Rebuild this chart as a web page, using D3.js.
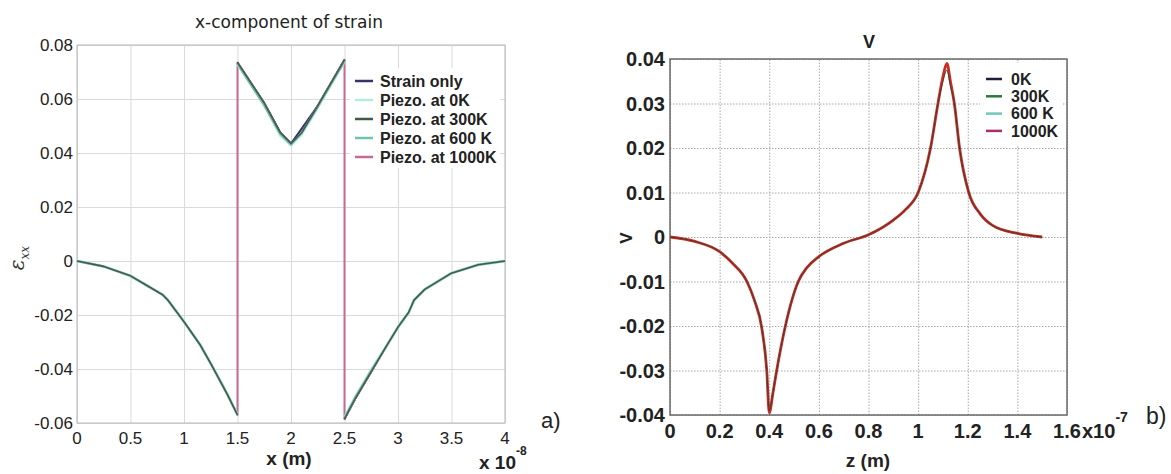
<!DOCTYPE html>
<html>
<head>
<meta charset="utf-8">
<script src="https://cdn.jsdelivr.net/npm/d3@7"></script>
<style>
  body { margin: 0; background: #fff; }
  svg { display: block; }
</style>
</head>
<body>
<div id="chart"></div>
<script>
// ---- panel a) x-component of strain (x in units of 1e-8 m) ----
const strainX = [0, 0.25, 0.5, 0.65, 0.8, 0.85, 1.0, 1.15, 1.25, 1.4, 1.5, 1.5, 1.5, 1.75, 1.9, 2.0, 2.1, 2.25, 2.5, 2.5, 2.5, 2.6, 2.75, 2.9, 3.0, 3.1, 3.15, 3.25, 3.5, 3.75, 4.0];
const strainOnly = [0, -0.002, -0.0055, -0.009, -0.0125, -0.0145, -0.0225, -0.031, -0.038, -0.049, -0.057, null, 0.0735, 0.0585, 0.0475, 0.0435, 0.049, 0.0575, 0.0745, null, -0.0585, -0.051, -0.041, -0.031, -0.0245, -0.019, -0.0145, -0.0105, -0.0045, -0.0014, 0];
const piezo0K = [0, -0.002, -0.0055, -0.009, -0.0125, -0.0145, -0.0225, -0.031, -0.038, -0.049, -0.057, null, 0.073, 0.058, 0.0465, 0.043, 0.047, 0.057, 0.074, null, -0.058, -0.0505, -0.0405, -0.031, -0.0245, -0.019, -0.0145, -0.0105, -0.0045, -0.0014, 0];
const piezo300K = [0, -0.002, -0.0055, -0.009, -0.0125, -0.0145, -0.0225, -0.031, -0.038, -0.049, -0.057, null, 0.0735, 0.0585, 0.0475, 0.0435, 0.0475, 0.0575, 0.0745, null, -0.0585, -0.051, -0.041, -0.031, -0.0245, -0.019, -0.0145, -0.0105, -0.0045, -0.0014, 0];
const piezo600K = [0, -0.002, -0.0055, -0.009, -0.0125, -0.0145, -0.0225, -0.031, -0.038, -0.049, -0.057, null, 0.073, 0.0575, 0.047, 0.043, 0.0475, 0.057, 0.074, null, -0.058, -0.0505, -0.0405, -0.031, -0.0245, -0.019, -0.0145, -0.0105, -0.0045, -0.0014, 0];
const piezo1000K = [0, -0.002, -0.0055, -0.009, -0.0125, -0.0145, -0.0225, -0.031, -0.038, -0.049, -0.057, 0, 0.0735, 0.0585, 0.0475, 0.0435, 0.0475, 0.0575, 0.0745, 0, -0.0585, -0.051, -0.041, -0.031, -0.0245, -0.019, -0.0145, -0.0105, -0.0045, -0.0014, 0];
const strainXTicks = [0, 0.5, 1, 1.5, 2, 2.5, 3, 3.5, 4];
const strainYTicks = [0.08, 0.06, 0.04, 0.02, 0, -0.02, -0.04, -0.06];
const strainLegend = ["Strain only", "Piezo. at 0K", "Piezo. at 300K", "Piezo. at 600 K", "Piezo. at 1000K"];

// ---- panel b) potential V (z in units of 1e-7 m) ----
const potZ = [0, 0.1, 0.2, 0.25, 0.31, 0.34, 0.37, 0.39, 0.40, 0.415, 0.43, 0.465, 0.517, 0.55, 0.6, 0.7, 0.8, 0.9, 0.95, 1.0, 1.05, 1.08, 1.1, 1.116, 1.13, 1.146, 1.167, 1.204, 1.25, 1.3, 1.4, 1.5];
const pot0K = [0, -0.001, -0.0033, -0.0058, -0.01, -0.0142, -0.0205, -0.03, -0.039, -0.035, -0.03, -0.02, -0.01, -0.007, -0.0044, -0.0014, 0.0005, 0.0038, 0.0062, 0.01, 0.02, 0.03, 0.035, 0.0375, 0.034, 0.03, 0.02, 0.01, 0.0052, 0.0026, 0.0008, 0];
const pot300K = [0, -0.001, -0.0033, -0.0058, -0.01, -0.0142, -0.0205, -0.03, -0.039, -0.035, -0.03, -0.02, -0.01, -0.007, -0.0044, -0.0014, 0.0005, 0.0038, 0.0062, 0.01, 0.02, 0.03, 0.035, 0.0375, 0.034, 0.03, 0.02, 0.01, 0.0052, 0.0026, 0.0008, 0];
const pot600K = [0, -0.001, -0.0033, -0.0058, -0.01, -0.0142, -0.0205, -0.03, -0.039, -0.035, -0.03, -0.02, -0.01, -0.007, -0.0044, -0.0014, 0.0005, 0.0038, 0.0062, 0.01, 0.02, 0.03, 0.035, 0.0378, 0.034, 0.03, 0.02, 0.01, 0.0052, 0.0026, 0.0008, 0];
const pot1000K = [0, -0.001, -0.0033, -0.0058, -0.01, -0.0142, -0.0205, -0.03, -0.0395, -0.035, -0.03, -0.02, -0.01, -0.007, -0.0044, -0.0014, 0.0005, 0.0038, 0.0062, 0.01, 0.02, 0.03, 0.036, 0.039, 0.035, 0.03, 0.02, 0.01, 0.0052, 0.0026, 0.0008, 0];
const potXTicks = [0, 0.2, 0.4, 0.6, 0.8, 1, 1.2, 1.4, 1.6];
const potYTicks = [0.04, 0.03, 0.02, 0.01, 0, -0.01, -0.02, -0.03, -0.04];
const potLegend = ["0K", "300K", "600 K", "1000K"];

const width = 1171, height = 474;

// plain hyphen for negatives, like the original figure
const fmt = d3.formatLocale({ decimal: ".", thousands: ",", grouping: [3], currency: ["", ""], minus: "-" }).format(".2f");
const tickText = d => d === 0 ? "0" : fmt(d);

const svg = d3.select("#chart").append("svg")
  .attr("width", width)
  .attr("height", height);

// =============== panel a ===============
const xA = d3.scaleLinear().domain([0, 4]).range([77, 505]);
const yA = d3.scaleLinear().domain([-0.06, 0.08]).range([423, 45]);
const gA = svg.append("g");

// grid
gA.append("g")
  .attr("transform", `translate(0,${yA(-0.06)})`)
  .call(d3.axisBottom(xA).tickValues(strainXTicks).tickSize(-(yA(-0.06) - yA(0.08))).tickFormat(""))
  .call(g => g.select(".domain").remove())
  .call(g => g.selectAll("line").attr("stroke", "#dadada"));
gA.append("g")
  .attr("transform", `translate(${xA(0)},0)`)
  .call(d3.axisLeft(yA).tickValues(strainYTicks).tickSize(-(xA(4) - xA(0))).tickFormat(""))
  .call(g => g.select(".domain").remove())
  .call(g => g.selectAll("line").attr("stroke", "#dadada"));

gA.append("rect")
  .attr("x", xA(0)).attr("y", yA(0.08))
  .attr("width", xA(4) - xA(0)).attr("height", yA(-0.06) - yA(0.08))
  .attr("fill", "none").attr("stroke", "#b8b8b8");

// tick labels
gA.append("g").selectAll("text")
  .data(strainXTicks).join("text")
  .attr("x", d => xA(d)).attr("y", yA(-0.06) + 21)
  .attr("text-anchor", "middle")
  .attr("font-family", "Liberation Sans, Arial, sans-serif")
  .attr("font-size", 17).attr("fill", "#222")
  .text(d => d);
gA.append("g").selectAll("text")
  .data(strainYTicks).join("text")
  .attr("x", xA(0) - 4).attr("y", d => yA(d)).attr("dy", "0.36em")
  .attr("text-anchor", "end")
  .attr("font-family", "Liberation Sans, Arial, sans-serif")
  .attr("font-size", 17).attr("fill", "#222")
  .text(tickText);

// title and labels
gA.append("text")
  .attr("x", 289).attr("y", 28).attr("text-anchor", "middle")
  .attr("font-family", "DejaVu Sans, sans-serif").attr("font-size", 17).attr("fill", "#222")
  .text("x-component of strain");
gA.append("text")
  .attr("x", 289).attr("y", 465).attr("text-anchor", "middle")
  .attr("font-family", "Liberation Sans, Arial, sans-serif").attr("font-weight", "bold")
  .attr("font-size", 19).attr("fill", "#222")
  .text("x (m)");
const expA = gA.append("text")
  .attr("x", 479).attr("y", 469)
  .attr("font-family", "Liberation Sans, Arial, sans-serif").attr("font-weight", "bold")
  .attr("font-size", 19).attr("fill", "#222");
expA.append("tspan").text("x 10");
expA.append("tspan").attr("dy", -14).attr("font-size", 12).text("-8");
gA.append("text")
  .attr("x", 541).attr("y", 428)
  .attr("font-family", "Liberation Sans, Arial, sans-serif")
  .attr("font-size", 22).attr("fill", "#222")
  .text("a)");
const yLabA = gA.append("text")
  .attr("transform", "translate(24,258) rotate(-90)")
  .attr("text-anchor", "middle")
  .attr("font-family", "DejaVu Serif, serif").attr("font-style", "italic")
  .attr("font-size", 20).attr("fill", "#333");
yLabA.append("tspan").text("ε");
yLabA.append("tspan").attr("dy", 5).attr("font-size", 12).text("xx");

// lines (1000K first so its pink vertical jumps show, others over it)
const strainSeries = [
  { name: "Piezo. at 1000K", values: piezo1000K, color: "#c86a90", w: 2 },
  { name: "Strain only", values: strainOnly, color: "#33336a", w: 2 },
  { name: "Piezo. at 0K", values: piezo0K, color: "#b4ece0", w: 3 },
  { name: "Piezo. at 600 K", values: piezo600K, color: "#6cc4ac", w: 2 },
  { name: "Piezo. at 300K", values: piezo300K, color: "#4a5a48", w: 1.6 }
];
const lineA = d3.line()
  .defined(d => d[1] !== null)
  .x(d => xA(d[0])).y(d => yA(d[1]));
gA.append("g").selectAll("path")
  .data(strainSeries).join("path")
  .attr("fill", "none")
  .attr("stroke", d => d.color)
  .attr("stroke-width", d => d.w)
  .attr("stroke-linejoin", "round")
  .attr("d", d => lineA(strainX.map((x, i) => [x, d.values[i]])));

// legend
const legAColors = { "Strain only": "#33336a", "Piezo. at 0K": "#b4ece0", "Piezo. at 300K": "#3f5a40", "Piezo. at 600 K": "#6cc4ac", "Piezo. at 1000K": "#c86a90" };
const legA = gA.append("g").attr("transform", "translate(350,68)");
legA.append("rect").attr("width", 150).attr("height", 100).attr("fill", "#fff");
strainLegend.forEach((name, i) => {
  const row = legA.append("g").attr("transform", `translate(0,${13 + i * 19})`);
  row.append("line").attr("x1", 5).attr("x2", 23).attr("stroke", legAColors[name]).attr("stroke-width", 2.5);
  row.append("text").attr("x", 30).attr("dy", "0.36em")
    .attr("font-family", "Liberation Sans, Arial, sans-serif").attr("font-weight", "bold")
    .attr("font-size", 16).attr("fill", "#222").text(name);
});

// =============== panel b ===============
const xB = d3.scaleLinear().domain([0, 1.6]).range([670, 1067]);
const yB = d3.scaleLinear().domain([-0.04, 0.04]).range([415, 59]);
const gB = svg.append("g");

gB.append("g")
  .attr("transform", `translate(0,${yB(-0.04)})`)
  .call(d3.axisBottom(xB).tickValues(potXTicks).tickSize(-(yB(-0.04) - yB(0.04))).tickFormat(""))
  .call(g => g.select(".domain").remove())
  .call(g => g.selectAll("line").attr("stroke", "#a8a8a8").attr("stroke-dasharray", "1.5,1.5"));
gB.append("g")
  .attr("transform", `translate(${xB(0)},0)`)
  .call(d3.axisLeft(yB).tickValues(potYTicks).tickSize(-(xB(1.6) - xB(0))).tickFormat(""))
  .call(g => g.select(".domain").remove())
  .call(g => g.selectAll("line").attr("stroke", "#a8a8a8").attr("stroke-dasharray", "1.5,1.5"));

// legend box hides grid behind it
const legB = gB.append("g").attr("transform", "translate(980,63)");
legB.append("rect").attr("width", 82).attr("height", 82).attr("fill", "#fff");

gB.append("rect")
  .attr("x", xB(0)).attr("y", yB(0.04))
  .attr("width", xB(1.6) - xB(0)).attr("height", yB(-0.04) - yB(0.04))
  .attr("fill", "none").attr("stroke", "#6a6a6a").attr("stroke-width", 1.5);

gB.append("g").selectAll("text")
  .data(potXTicks).join("text")
  .attr("x", d => xB(d)).attr("y", yB(-0.04) + 23)
  .attr("text-anchor", "middle")
  .attr("font-family", "Liberation Sans, Arial, sans-serif").attr("font-weight", "bold")
  .attr("font-size", 20).attr("fill", "#222")
  .text(d => d);
gB.append("g").selectAll("text")
  .data(potYTicks).join("text")
  .attr("x", xB(0) - 5).attr("y", d => yB(d)).attr("dy", "0.36em")
  .attr("text-anchor", "end")
  .attr("font-family", "Liberation Sans, Arial, sans-serif").attr("font-weight", "bold")
  .attr("font-size", 20).attr("fill", "#222")
  .text(tickText);

gB.append("text")
  .attr("x", 869).attr("y", 48).attr("text-anchor", "middle")
  .attr("font-family", "Liberation Sans, Arial, sans-serif").attr("font-weight", "bold")
  .attr("font-size", 18).attr("fill", "#222")
  .text("V");
gB.append("text")
  .attr("x", 868).attr("y", 467).attr("text-anchor", "middle")
  .attr("font-family", "Liberation Sans, Arial, sans-serif").attr("font-weight", "bold")
  .attr("font-size", 19).attr("fill", "#222")
  .text("z (m)");
gB.append("text")
  .attr("transform", "translate(632,238) rotate(-90)")
  .attr("text-anchor", "middle")
  .attr("font-family", "Liberation Sans, Arial, sans-serif").attr("font-weight", "bold")
  .attr("font-size", 17).attr("fill", "#222")
  .text("V");
const expB = gB.append("text")
  .attr("x", 1082).attr("y", 438)
  .attr("font-family", "Liberation Sans, Arial, sans-serif").attr("font-weight", "bold")
  .attr("font-size", 20).attr("fill", "#222");
expB.append("tspan").text("x10");
expB.append("tspan").attr("dy", -16).attr("font-size", 14).text("-7");
gB.append("text")
  .attr("x", 1146).attr("y", 424)
  .attr("font-family", "Liberation Sans, Arial, sans-serif")
  .attr("font-size", 23).attr("fill", "#222")
  .text("b)");

// red 1000K underneath, the cooler curves as a thin dark core on top
const potSeries = [
  { name: "1000K", values: pot1000K, color: "#cc2a22", w: 2.8, op: 1 },
  { name: "600 K", values: pot600K, color: "#70c8b8", w: 1, op: 0.3 },
  { name: "300K", values: pot300K, color: "#2a6a34", w: 1, op: 0.35 },
  { name: "0K", values: pot0K, color: "#3a1418", w: 1, op: 0.6 }
];
const lineB = d3.line()
  .x(d => xB(d[0])).y(d => yB(d[1]))
  .curve(d3.curveMonotoneX);
gB.append("g").selectAll("path")
  .data(potSeries).join("path")
  .attr("fill", "none")
  .attr("stroke", d => d.color)
  .attr("stroke-width", d => d.w)
  .attr("stroke-opacity", d => d.op)
  .attr("d", d => lineB(potZ.map((z, i) => [z, d.values[i]])));

const legBColors = { "0K": "#1e1e3a", "300K": "#2a7a3a", "600 K": "#70c8b8", "1000K": "#a8306a" };
potLegend.forEach((name, i) => {
  const row = legB.append("g").attr("transform", `translate(0,${16 + i * 17.3})`);
  row.append("line").attr("x1", 6).attr("x2", 22).attr("stroke", legBColors[name]).attr("stroke-width", 2.5);
  row.append("text").attr("x", 31).attr("dy", "0.36em")
    .attr("font-family", "Liberation Sans Narrow, Liberation Sans, Arial, sans-serif").attr("font-weight", "bold")
    .attr("font-size", 16).attr("fill", "#222").text(name);
});
</script>
</body>
</html>
